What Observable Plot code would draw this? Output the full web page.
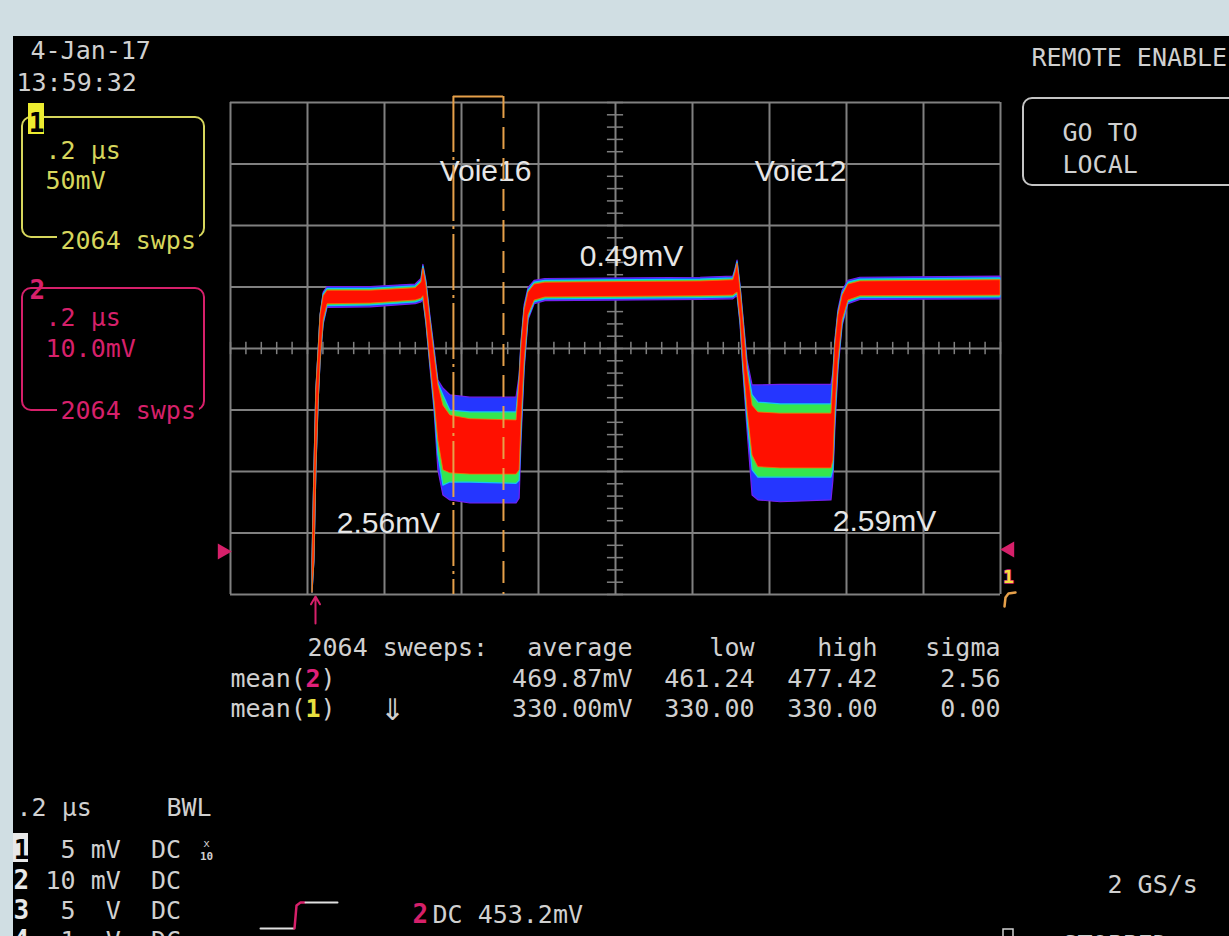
<!DOCTYPE html>
<html><head><meta charset="utf-8">
<script src="https://cdn.jsdelivr.net/npm/d3@7"></script>
<script src="https://cdn.jsdelivr.net/npm/@observablehq/plot@0.6"></script>
<style>
html,body{margin:0;padding:0;background:#d0dee3;width:1229px;height:936px;overflow:hidden;}
#screen{position:absolute;left:13px;top:36px;width:1216px;height:900px;background:#000;overflow:hidden;}
</style></head><body><div id="screen"></div>
<script>
// ---- Channel 2 persistence trace: time (µs, 0.2 µs/div) and voltage bands (mV from centre, 10 mV/div)
const timeUs = [0.213,0.218,0.223,0.229,0.234,0.242,0.252,0.364,0.481,0.496,0.501,0.509,0.519,0.530,0.540,0.553,0.571,0.623,0.743,0.751,0.756,0.764,0.774,0.790,0.818,1.221,1.306,1.312,1.317,1.325,1.332,1.343,1.356,1.371,1.429,1.561,1.566,1.571,1.579,1.590,1.605,1.636,2.000];
const redHi = [-34.5,-19.8,-6.8,-0.3,5.4,8.5,9.4,9.4,9.8,10.7,13.0,10.2,4.6,-1.1,-6.0,-9.3,-10.9,-11.5,-11.7,-5.2,0.5,6.2,9.1,10.4,10.7,10.9,11.1,12.4,13.8,9.4,4.6,-3.6,-9.3,-10.4,-10.6,-10.6,-5.2,0.5,5.4,8.6,10.4,10.9,11.1];
const redLo = [-39.7,-34.5,-19.8,-8.5,-2.0,4.6,7.2,7.3,7.8,8.1,8.5,4.6,-2.0,-8.5,-15.0,-19.8,-20.3,-20.5,-20.5,-19.8,-11.7,-2.0,5.4,7.8,8.3,8.5,8.6,8.9,9.1,4.6,-2.0,-10.1,-17.4,-19.3,-19.5,-19.5,-18.2,-10.1,-2.0,4.6,7.8,8.5,8.6];
const grnHi = [-34.5,-19.8,-6.8,-0.3,5.4,8.8,9.7,9.7,10.1,11.0,13.3,10.6,4.9,-0.7,-5.7,-7.6,-10.1,-10.4,-10.4,-4.9,0.8,6.5,9.4,10.7,11.0,11.2,11.4,12.7,14.0,9.8,4.9,-2.9,-7.6,-8.8,-9.1,-9.1,-4.4,0.8,5.7,8.9,10.7,11.2,11.4];
const grnLo = [-39.7,-34.5,-19.8,-8.5,-2.0,4.2,6.9,7.0,7.5,7.8,8.2,4.2,-2.3,-9.3,-17.4,-22.3,-21.8,-21.8,-22.0,-21.5,-13.3,-2.8,4.9,7.5,8.0,8.2,8.3,8.6,8.8,4.2,-2.8,-11.7,-19.8,-21.0,-21.0,-21.0,-19.8,-11.7,-2.8,4.1,7.5,8.2,8.3];
const outHi = [-34.5,-19.8,-6.8,-0.3,5.4,9.1,10.0,10.0,10.4,11.3,13.6,10.9,5.4,0.0,-5.2,-6.5,-7.6,-8.0,-8.0,-4.4,1.3,7.0,9.8,11.0,11.3,11.5,11.7,13.0,14.3,10.1,5.4,-2.0,-6.0,-6.0,-5.9,-5.9,-3.9,1.3,6.2,9.4,11.0,11.5,11.7];
const outLo = [-39.7,-34.5,-19.8,-8.5,-2.0,3.9,6.6,6.7,7.2,7.5,7.9,3.9,-2.9,-10.1,-19.8,-23.9,-24.7,-25.2,-25.2,-24.4,-15.0,-3.6,4.6,7.2,7.7,7.9,8.0,8.3,8.5,3.7,-3.6,-13.3,-23.9,-24.7,-25.0,-24.7,-21.5,-13.3,-3.6,3.7,7.2,7.9,8.0];
// cursors (µs)
const cursorTimes = [0.579, 0.709];
// grid
const gridTimes = [0,0.2,0.4,0.6,0.8,1.0,1.2,1.4,1.6,1.8,2.0];
const gridVolts = [-40,-30,-20,-10,0,10,20,30,40];
const minorTimes = d3.range(0, 2.0001, 0.04);
const minorVolts = d3.range(-40, 40.001, 2);
// measurement table
const statHeader = ["average","low","high","sigma"];
const ch2Stats = ["469.87mV","461.24","477.42","2.56"];
const ch1Stats = ["330.00mV","330.00","330.00","0.00"];
const chanRows = [["2"," 10 mV  DC"],["3","  5  V  DC"],["4","  1  V  DC"]];
const annotations = ["Voie16","Voie12","0.49mV","2.56mV","2.59mV"];

// ---- layout helpers (page pixel -> data coordinates)
const X = px => (px - 230) / 385;
const Y = py => (348 - py) / 6.15;
const MONO = "DejaVu Sans Mono", SANS = "Liberation Sans";
const GRAY = "#d0d0d0", YEL = "#d6d65c", PINK = "#d6206a", ORANGE = "#e6a04a", GRID = "#808080";
const L = (str, px, py, o = {}) => Plot.text([{t: X(px), v: Y(py), s: str}], {
  x: "t", y: "v", text: "s", textAnchor: o.anchor || "start", lineAnchor: "bottom",
  fill: o.fill || GRAY, fontSize: o.size || 25, fontFamily: o.font || MONO, fontWeight: o.weight || "normal"
});
const B = (x1, y1, x2, y2, o = {}) => Plot.rect([{a: X(x1), b: X(x2), c: Y(y1), d: Y(y2)}], {
  x1: "a", x2: "b", y1: "c", y2: "d", fill: o.fill || "none", stroke: o.stroke || "none", strokeWidth: o.sw || 2, rx: o.rx || 0
});
const P = (pts, stroke, sw = 2) => Plot.line(pts, {x: p => X(p[0]), y: p => Y(p[1]), stroke, strokeWidth: sw});

const statCols = [632, 754, 877, 1000];

const chart = Plot.plot({
  width: 1216, height: 900,
  marginLeft: 217, marginRight: 229, marginTop: 66, marginBottom: 342,
  x: {domain: [0, 2], axis: null},
  y: {domain: [-40, 40], axis: null},
  style: {background: "#000", fontFamily: MONO},
  marks: [
    // grid
    Plot.ruleX(gridTimes, {stroke: GRID, strokeWidth: 2}),
    Plot.ruleY(gridVolts, {stroke: GRID, strokeWidth: 2}),
    Plot.ruleX(minorTimes, {y1: -1, y2: 1, stroke: GRID, strokeWidth: 1.5}),
    Plot.ruleY(minorVolts, {x1: 0.979, x2: 1.021, stroke: GRID, strokeWidth: 1.5}),
    // persistence trace layers
    Plot.areaY(timeUs, {x: timeUs, y1: outLo, y2: outHi, fill: "#2536ff", stroke: "#7420f0", strokeWidth: 1.2}),
    Plot.areaY(timeUs, {x: timeUs, y1: grnLo, y2: grnHi, fill: "#34e64e", stroke: "#12c6f2", strokeWidth: 1.2}),
    Plot.areaY(timeUs, {x: timeUs, y1: redLo, y2: redHi, fill: "#ff1000", stroke: "#ff7000", strokeWidth: 0.8}),
    // annotations
    L(annotations[0], 485, 180, {font: SANS, size: 30, anchor: "middle", fill: "#e6e6e6"}),
    L(annotations[1], 800, 180, {font: SANS, size: 30, anchor: "middle", fill: "#e6e6e6"}),
    L(annotations[2], 631, 265, {font: SANS, size: 30, anchor: "middle", fill: "#e6e6e6"}),
    L(annotations[3], 388, 532, {font: SANS, size: 30, anchor: "middle", fill: "#e6e6e6"}),
    L(annotations[4], 884, 530, {font: SANS, size: 30, anchor: "middle", fill: "#e6e6e6"}),
    // cursors
    Plot.ruleX([cursorTimes[0]], {y1: Y(96), y2: -40, stroke: ORANGE, strokeWidth: 2, strokeDasharray: "56,5,3,5"}),
    Plot.ruleX([cursorTimes[1]], {y1: Y(96), y2: -40, stroke: ORANGE, strokeWidth: 2, strokeDasharray: "22,9"}),
    Plot.ruleY([Y(96)], {x1: cursorTimes[0], x2: cursorTimes[1], stroke: ORANGE, strokeWidth: 2}),
    // markers
    Plot.dot([0], {x: () => X(222), y: () => Y(551), symbol: "triangle", rotate: 90, r: 6, fill: PINK}),
    Plot.arrow([0], {x1: () => X(315), y1: () => Y(623), x2: () => X(315), y2: () => Y(596), stroke: PINK, strokeWidth: 2, headLength: 10}),
    Plot.dot([0], {x: () => X(1009), y: () => Y(549), symbol: "triangle", rotate: -90, r: 6, fill: PINK}),
    Plot.text([0], {x: () => X(1008), y: () => Y(582), text: () => "1", lineAnchor: "bottom", fill: "#f2e040", stroke: "#d02070", strokeWidth: 1.5, paintOrder: "stroke", fontWeight: "bold", fontSize: 18, fontFamily: MONO}),
    P([[1004, 606], [1005, 597], [1008, 593], [1015, 592]], ORANGE, 2.5),
    // top-left date
    L("4-Jan-17", 30, 58),
    L("13:59:32", 16, 90),
    // channel 1 box
    B(22, 117, 204, 237, {stroke: YEL, rx: 9}),
    B(57, 229, 199, 246, {fill: "#000"}),
    B(28, 103, 44, 134, {fill: "#ecec30"}),
    L("1", 36, 131, {anchor: "middle", fill: "#000", weight: "bold", size: 26}),
    L(".2 µs", 45, 158, {fill: YEL}),
    L("50mV", 45, 188, {fill: YEL}),
    L("2064 swps", 60, 248, {fill: YEL}),
    // channel 2 box
    B(22, 288, 204, 410, {stroke: PINK, rx: 9}),
    B(57, 402, 199, 418, {fill: "#000"}),
    L("2", 29, 298, {fill: PINK, weight: "bold", size: 26}),
    L(".2 µs", 45, 325, {fill: PINK}),
    L("10.0mV", 45, 356, {fill: PINK}),
    L("2064 swps", 60, 418, {fill: PINK}),
    // right panel
    L("REMOTE ENABLE", 1031, 65),
    B(1023, 98, 1260, 185, {stroke: "#c4c4c4", rx: 9}),
    L("GO TO", 1062, 140),
    L("LOCAL", 1062, 172),
    // measurement table
    L("2064 sweeps:", 307, 655),
    Plot.text(statHeader, {x: (d, i) => X(statCols[i]), y: () => Y(655), text: d => d, textAnchor: "end", lineAnchor: "bottom", fill: GRAY, fontSize: 25, fontFamily: MONO}),
    L("mean(", 230, 686),
    L("2", 305, 686, {fill: "#e0207a", weight: "bold"}),
    L(")", 320, 686),
    Plot.text(ch2Stats, {x: (d, i) => X(statCols[i]), y: () => Y(686), text: d => d, textAnchor: "end", lineAnchor: "bottom", fill: GRAY, fontSize: 25, fontFamily: MONO}),
    L("mean(", 230, 716),
    L("1", 305, 716, {fill: "#e8e040", weight: "bold"}),
    L(")", 320, 716),
    L("⇓", 392, 719, {anchor: "middle", size: 30, font: "DejaVu Sans"}),
    Plot.text(ch1Stats, {x: (d, i) => X(statCols[i]), y: () => Y(716), text: d => d, textAnchor: "end", lineAnchor: "bottom", fill: GRAY, fontSize: 25, fontFamily: MONO}),
    // bottom-left channel settings
    L(".2 µs", 16, 815),
    L("BWL", 166, 815),
    B(13, 833, 28, 862, {fill: "#e8e8e8"}),
    L("1", 21, 858, {anchor: "middle", fill: "#000", weight: "bold", size: 26}),
    L("  5 mV  DC", 30, 857),
    L("x", 206, 846, {anchor: "middle", size: 11}),
    L("10", 206, 859, {anchor: "middle", size: 11, weight: "bold"}),
    Plot.text(chanRows, {x: () => X(13), y: (d, i) => Y(888 + i * 30), text: d => d[0], textAnchor: "start", lineAnchor: "bottom", fill: "#e8e8e8", fontWeight: "bold", fontSize: 26, fontFamily: MONO}),
    Plot.text(chanRows, {x: () => X(30), y: (d, i) => Y(888 + i * 30), text: d => d[1], textAnchor: "start", lineAnchor: "bottom", fill: GRAY, fontSize: 25, fontFamily: MONO}),
    // trigger symbol and level
    P([[260, 928], [293, 928]], "#e0e0e0", 2),
    P([[294, 928], [296, 905], [300, 902], [304, 902]], PINK, 2.5),
    P([[305, 902], [337, 902]], "#e0e0e0", 2),
    L("2", 412, 922, {fill: PINK, weight: "bold", size: 26}),
    L("DC 453.2mV", 432, 922),
    L("2 GS/s", 1107, 892),
    B(1003, 929, 1013, 945, {stroke: GRAY, sw: 1.5}),
    L("STOPPED", 1062, 952)
  ]
});
document.getElementById("screen").append(chart);
</script>
</body></html>
